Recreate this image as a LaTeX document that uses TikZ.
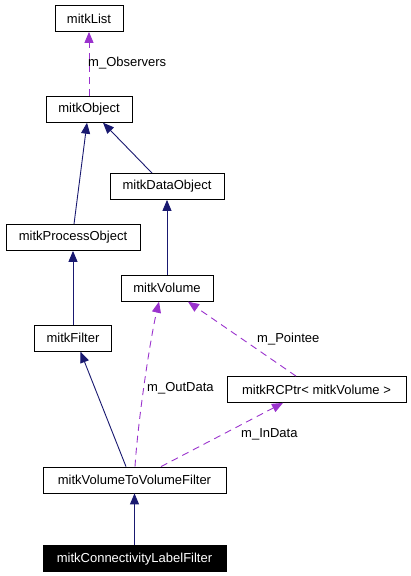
\documentclass[tikz,border=0pt]{standalone}
\usepackage{fontspec}
\setmainfont{Liberation Sans}
\usetikzlibrary{arrows.meta, positioning}
\definecolor{inhblue}{HTML}{191970}
\definecolor{usepurple}{HTML}{9A32CD}

\begin{document}
\begin{tikzpicture}[
    x=1pt, y=-1pt,
    cls/.style={draw, line width=0.8pt, minimum height=26pt, inner sep=0pt, font=\fontsize{13}{15}\selectfont},
    lbl/.style={inner sep=0pt, anchor=west, font=\fontsize{13}{15}\selectfont},
    inherit/.style={draw=inhblue, line width=0.9pt, -{Triangle[length=11pt, width=9pt]}},
    uses/.style={draw=usepurple, line width=0.9pt, dash pattern=on 7pt off 5pt, -{Triangle[length=11pt, width=9pt]}}
]
    \useasboundingbox (0,0) rectangle (411,576);

    % Base classes
    \node[cls, minimum width=68pt] (list) at (89,18.5) {mitkList};
    \node[cls, minimum width=86pt, below=64pt of list] (object) {mitkObject};
    \node[cls, minimum width=114pt] (dataobj) at (167,186.5) {mitkDataObject};
    \node[cls, minimum width=134pt] (procobj) at (73,237.5) {mitkProcessObject};
    \node[cls, minimum width=92pt, below=75pt of dataobj] (volume) {mitkVolume};
    \node[cls, minimum width=77pt, below=74pt of procobj] (filter) {mitkFilter};
    \node[cls, minimum width=179pt] (rcptr) at (316.5,389.5) {mitkRCPtr< mitkVolume >};

    % Filters
    \node[cls, minimum width=183pt] (vtvf) at (134.5,480) {mitkVolumeToVolumeFilter};
    \node[cls, minimum width=183pt, fill=black, text=white, below=52pt of vtvf] (clf) {mitkConnectivityLabelFilter};

    % Inheritance
    \draw[inherit] ([xshift=1pt]procobj.north) -- ([xshift=-2pt]object.south);
    \draw[inherit] ([xshift=-15pt]dataobj.north) -- ([xshift=14pt]object.south);
    \draw[inherit] (volume.north) -- (volume.north |- dataobj.south);
    \draw[inherit] (filter.north) -- (filter.north |- procobj.south);
    \draw[inherit] ([xshift=-8.5pt]vtvf.north) -- ([xshift=7.5pt]filter.south);
    \draw[inherit] (clf) -- (vtvf);

    % Usage
    \draw[uses] (object) -- (list);
    \draw[uses] ([xshift=0.5pt]vtvf.north) .. controls (138,420) and (150,340) .. ([xshift=-8pt]volume.south);
    \draw[uses] ([xshift=26.5pt]vtvf.north) -- ([xshift=-33.5pt]rcptr.south);
    \draw[uses] ([xshift=-20.5pt]rcptr.north) -- ([xshift=21pt]volume.south);

    % Labels
    \node[lbl] (obslbl) at (88,63) {m\_Observers};
    \node[lbl] (outlbl) at (147,388) {m\_OutData};
    \node[lbl] (ptelbl) at (257,339) {m\_Pointee};
    \node[lbl] (inlbl) at (241,434) {m\_InData};
\end{tikzpicture}
\end{document}
